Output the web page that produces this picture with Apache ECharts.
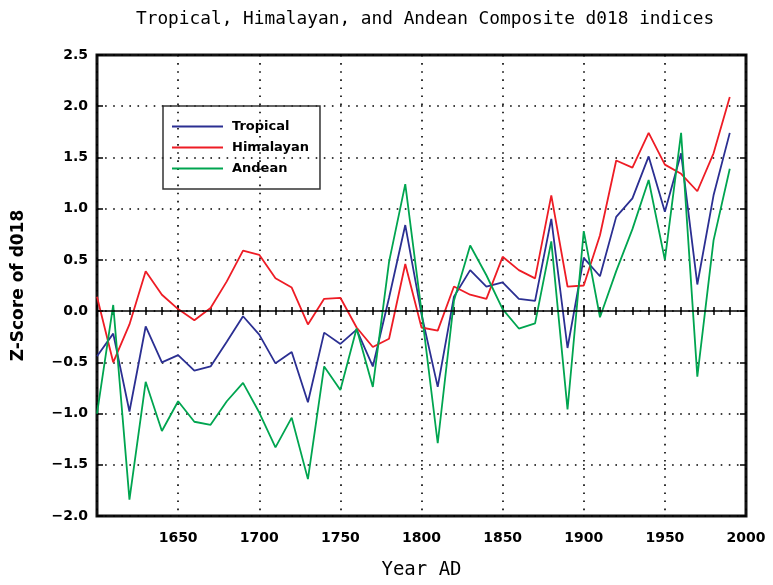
<!DOCTYPE html>
<html>
<head>
<meta charset="utf-8">
<script src="https://cdn.jsdelivr.net/npm/echarts@6/dist/echarts.min.js"></script>
<style>
  html, body { margin: 0; padding: 0; background: #fff; }
  #chart { width: 773px; height: 585px; }
</style>
</head>
<body>
<div id="chart"></div>
<script>
// decades sampled
const years = [1600, 1610, 1620, 1630, 1640, 1650, 1660, 1670, 1680, 1690,
               1700, 1710, 1720, 1730, 1740, 1750, 1760, 1770, 1780, 1790,
               1800, 1810, 1820, 1830, 1840, 1850, 1860, 1870, 1880, 1890,
               1900, 1910, 1920, 1930, 1940, 1950, 1960, 1970, 1980, 1990]
const tropical = [-0.44, -0.22, -0.98, -0.15, -0.50, -0.43, -0.58, -0.54, -0.30, -0.05,
                  -0.23, -0.51, -0.40, -0.89, -0.21, -0.32, -0.18, -0.54, 0.13, 0.84,
                  -0.03, -0.74, 0.14, 0.40, 0.24, 0.28, 0.12, 0.10, 0.90, -0.36,
                  0.52, 0.34, 0.92, 1.10, 1.51, 0.97, 1.54, 0.26, 1.13, 1.74]
const himalayan = [0.14, -0.50, -0.13, 0.39, 0.16, 0.02, -0.09, 0.03, 0.29, 0.59,
                   0.55, 0.32, 0.23, -0.13, 0.12, 0.13, -0.16, -0.35, -0.27, 0.46,
                   -0.16, -0.19, 0.24, 0.16, 0.12, 0.53, 0.40, 0.32, 1.13, 0.24,
                   0.25, 0.74, 1.47, 1.40, 1.74, 1.43, 1.34, 1.17, 1.54, 2.09]
const andean = [-1.00, 0.06, -1.84, -0.69, -1.17, -0.88, -1.08, -1.11, -0.88, -0.70,
                -0.99, -1.33, -1.04, -1.64, -0.54, -0.77, -0.17, -0.74, 0.48, 1.24,
                0.00, -1.29, 0.10, 0.64, 0.35, 0.02, -0.17, -0.12, 0.68, -0.96,
                0.78, -0.06, 0.39, 0.80, 1.28, 0.50, 1.74, -0.64, 0.69, 1.39]
const seriesNames = ['Tropical', 'Himalayan', 'Andean']
const colors = ['#2b2f92', '#ee1c25', '#00a550']

const sansBold = 'DejaVu Sans'
const pairs = vals => years.map((y, i) => [y, vals[i]])
const minus = s => s.replace('-', '\u2212')

const chart = echarts.init(document.getElementById('chart'))

const tick = { show: true, inside: true, length: 6, lineStyle: { color: '#000', width: 1.5 } }
const minor = { show: true, splitNumber: 5, length: 4, lineStyle: { color: '#000', width: 1.5 } }
const dotted = { show: true, lineStyle: { color: '#000', width: 1.6, type: [1.6, 6.5] } }

const option = {
  animation: false,
  title: {
    text: 'Tropical, Himalayan, and Andean Composite d018 indices',
    left: 131, top: 5,
    textStyle: { fontFamily: 'DejaVu Sans Mono', fontSize: 17.8, fontWeight: 'normal', color: '#000' }
  },
  grid: { left: 97, right: 27, top: 55, bottom: 63, show: true, borderColor: '#111', borderWidth: 3 },
  legend: {
    data: seriesNames,
    orient: 'vertical',
    left: 163, top: 106,
    padding: [14, 11, 14, 9],
    itemGap: 8,
    icon: 'rect',
    itemWidth: 51, itemHeight: 2,
    borderColor: '#333', borderWidth: 1.5,
    textStyle: { fontFamily: sansBold, fontWeight: 'bold', fontSize: 13, color: '#000', padding: [0, 0, 0, 4] }
  },
  xAxis: [{
    type: 'value', min: 1600, max: 2000, interval: 50,
    axisLine: { show: false },
    axisTick: tick, minorTick: minor,
    splitLine: dotted,
    axisLabel: {
      showMinLabel: false, margin: 15, formatter: v => String(v),
      fontFamily: sansBold, fontWeight: 'bold', fontSize: 14, color: '#000'
    },
    name: 'Year AD', nameLocation: 'middle', nameGap: 45,
    nameTextStyle: { fontFamily: 'DejaVu Sans Mono', fontSize: 19, color: '#000' }
  }, {
    type: 'value', position: 'top', min: 1600, max: 2000, interval: 50,
    axisLine: { show: false }, axisTick: tick, minorTick: minor,
    axisLabel: { show: false }, splitLine: { show: false }
  }],
  yAxis: [{
    type: 'value', min: -2, max: 2.5, interval: 0.5,
    axisLine: { show: false },
    axisTick: tick,
    splitLine: dotted,
    axisLabel: {
      margin: 9, formatter: v => minus(v.toFixed(1)),
      fontFamily: sansBold, fontWeight: 'bold', fontSize: 14, color: '#000'
    },
    name: 'Z-Score of d018', nameLocation: 'middle', nameGap: 70,
    nameTextStyle: { fontFamily: sansBold, fontWeight: 'bold', fontSize: 17, color: '#000' }
  }, {
    type: 'value', position: 'right', min: -2, max: 2.5, interval: 0.5,
    axisLine: { show: false }, axisTick: tick,
    axisLabel: { show: false }, splitLine: { show: false }
  }],
  series: [tropical, himalayan, andean].map((vals, i) => ({
    name: seriesNames[i],
    type: 'line',
    data: pairs(vals),
    symbol: 'none',
    color: colors[i],
    lineStyle: { width: 1.8, color: colors[i] },
    z: 3,
    markLine: i === 0 ? {
      silent: true, symbol: 'none', label: { show: false },
      lineStyle: { color: '#000', width: 1.5, type: 'solid' },
      data: [{ yAxis: 0 }]
    } : undefined
  }))
}
chart.setOption(option)
</script>
</body>
</html>
